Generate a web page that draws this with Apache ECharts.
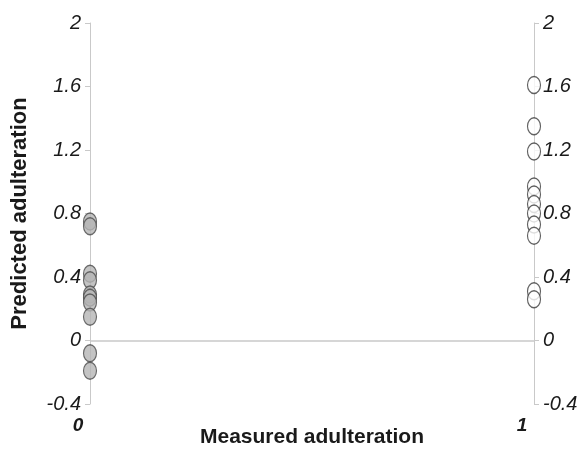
<!DOCTYPE html>
<html>
<head>
<meta charset="utf-8">
<script src="https://cdn.jsdelivr.net/npm/echarts@6/dist/echarts.min.js"></script>
<style>
  html, body { margin: 0; padding: 0; background: #ffffff; }
  #chart { width: 577px; height: 453px; }
</style>
</head>
<body>
<div id="chart"></div>
<script>
// Predicted adulteration for unadulterated (0) and adulterated (1) samples
const measuredClasses = [0, 1];
const predictedUnadulterated = [0.75, 0.72, 0.42, 0.38, 0.29, 0.27, 0.24, 0.15, -0.08, -0.19];
const predictedAdulterated = [1.61, 1.35, 1.19, 0.97, 0.92, 0.86, 0.80, 0.73, 0.66, 0.31, 0.26];
const yTicks = { min: -0.4, max: 2, step: 0.4 };

const fontFamily = '"Liberation Sans", Arial, sans-serif';
const axisGray = '#c9c9c9';
const textColor = '#1a1a1a';

function tickLabel(v) {
  const r = Math.round(v * 10) / 10;
  return r === 0 ? '0' : String(r);
}

const yLabelStyle = {
  fontFamily, fontSize: 20, fontStyle: 'italic', color: textColor, margin: 9,
  formatter: tickLabel
};

const chart = echarts.init(document.getElementById('chart'), null, { renderer: 'canvas' });
chart.setOption({
  animation: false,
  backgroundColor: '#ffffff',
  grid: { left: 90, right: 43, top: 23, bottom: 49, outerBoundsMode: 'none', containLabel: false },
  xAxis: {
    type: 'value', min: measuredClasses[0], max: measuredClasses[1], interval: 1,
    name: 'Measured adulteration', nameLocation: 'middle', nameGap: 23, nameMoveOverlap: false,
    nameTextStyle: { fontFamily, fontSize: 21, fontWeight: 'bold', color: textColor },
    axisLine: { show: false },
    axisTick: { show: false },
    splitLine: { show: false },
    axisLabel: {
      fontFamily, fontSize: 19, fontWeight: 'bold', fontStyle: 'italic', color: textColor,
      margin: 12, padding: [0, 24, 0, 0]
    }
  },
  yAxis: [
    {
      type: 'value', min: yTicks.min, max: yTicks.max, interval: yTicks.step, position: 'left',
      name: 'Predicted adulteration', nameLocation: 'middle', nameGap: 59, nameMoveOverlap: false,
      nameTextStyle: { fontFamily, fontSize: 22, fontWeight: 'bold', color: textColor },
      axisLine: { show: true, lineStyle: { color: axisGray, width: 1 } },
      axisTick: { show: true, length: 5, lineStyle: { color: axisGray } },
      splitLine: { show: false },
      axisLabel: yLabelStyle
    },
    {
      type: 'value', min: yTicks.min, max: yTicks.max, interval: yTicks.step, position: 'right',
      axisLine: { show: true, lineStyle: { color: axisGray, width: 1 } },
      axisTick: { show: true, length: 5, lineStyle: { color: axisGray } },
      splitLine: { show: false },
      axisLabel: yLabelStyle
    }
  ],
  series: [
    {
      type: 'scatter',
      data: predictedUnadulterated.map(v => [measuredClasses[0], v]),
      symbol: 'circle', symbolSize: [13, 17],
      itemStyle: { color: '#b5b5b5', borderColor: '#4a4a4a', borderWidth: 1.3 },
      markLine: {
        silent: true, symbol: 'none', label: { show: false },
        lineStyle: { color: axisGray, type: 'solid', width: 1.5 },
        data: [{ yAxis: 0 }]
      },
      z: 3
    },
    {
      type: 'scatter',
      data: predictedAdulterated.map(v => [measuredClasses[1], v]),
      symbol: 'circle', symbolSize: [13, 17],
      itemStyle: { color: '#ffffff', borderColor: '#3a3a3a', borderWidth: 1.3 },
      z: 3
    }
  ]
});
</script>
</body>
</html>
